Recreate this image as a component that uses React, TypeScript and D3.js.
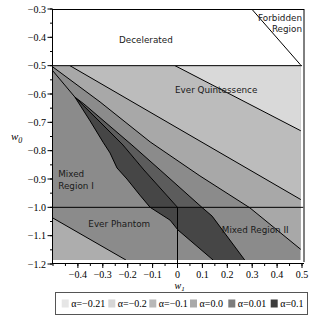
import React from 'react';
import * as d3 from 'd3';

// ---- data (w1, w0) ----
const xTickValues = [-0.4, -0.3, -0.2, -0.1, 0, 0.1, 0.2, 0.3, 0.4, 0.5];
const yTickValues = [-0.3, -0.4, -0.5, -0.6, -0.7, -0.8, -0.9, -1.0, -1.1, -1.2];

const fillTop = -0.5;
const fillBottom = -1.186;
const fillLeft = -0.5;
const fillRight = 0.495;

const lineL1: [number, number][] = [[-0.01, -0.5], [0.5, -0.732]];
const lineL2: [number, number][] = [[-0.432, -0.5], [0.5, -0.975]];
const lineL3: [number, number][] = [
  [-0.5, -0.505], [-0.311, -0.628], [-0.11, -0.769], [0.09, -0.889], [0.291, -1.002], [0.5, -1.152],
];
const cornerToTip: [number, number][] = [[-0.5, -0.519], [-0.412, -0.611]];
const bandLeftUpper: [number, number][] = [
  [-0.412, -0.611], [-0.351, -0.695], [-0.299, -0.77], [-0.271, -0.808], [-0.243, -0.861],
  [-0.203, -0.9], [-0.151, -0.957], [-0.11, -1.0],
];
const bandLeftLower: [number, number][] = [
  [-0.11, -1.0], [-0.03, -1.045], [0.002, -1.08], [0.143, -1.186],
];
const darkRight: [number, number][] = [
  [-0.412, -0.611], [-0.311, -0.699], [-0.219, -0.78], [-0.135, -0.868], [0.0, -1.0],
];
const midRight: [number, number][] = [
  [-0.412, -0.611], [-0.376, -0.635], [-0.183, -0.78], [-0.07, -0.868], [0.098, -1.0],
];
const bandRightLower: [number, number][] = [[0.098, -1.0], [0.139, -1.031], [0.27, -1.186]];
const phantomLine: [number, number][] = [[-0.5, -1.038], [-0.207, -1.186]];
const forbiddenLine: [number, number][] = [[0.298, -0.3], [0.494, -0.497]];

const legendLabels = ['α=−0.21', 'α=−0.2', 'α=−0.1', 'α=0.0', 'α=0.01', 'α=0.1'];
const legendColors = ['#e6e6e6', '#d6d6d6', '#b8b8b8', '#a9a9a9', '#7c7c7c', '#3c3c3c'];

const regionLabels: { text: string; w1: number; w0: number; anchor: string }[] = [
  { text: 'Decelerated', w1: -0.127, w0: -0.42, anchor: 'middle' },
  { text: 'Forbidden', w1: 0.5, w0: -0.342, anchor: 'end' },
  { text: 'Region', w1: 0.5, w0: -0.381, anchor: 'end' },
  { text: 'Ever Quintessence', w1: -0.01, w0: -0.597, anchor: 'start' },
  { text: 'Mixed', w1: -0.479, w0: -0.893, anchor: 'start' },
  { text: 'Region I', w1: -0.479, w0: -0.935, anchor: 'start' },
  { text: 'Ever Phantom', w1: -0.358, w0: -1.069, anchor: 'start' },
  { text: 'Mixed Region II', w1: 0.178, w0: -1.091, anchor: 'start' },
];

const C = {
  a: '#d9d9d9',
  b: '#bcbcbc',
  c: '#a8a8a8',
  d: '#8b8b8b',
  e: '#5c5c5c',
  f: '#464646',
  g: '#adadad',
};

export default function App() {
  const x = d3.scaleLinear().domain([-0.5, 0.5]).range([53, 302]);
  const y = d3.scaleLinear().domain([-1.2, -0.3]).range([264, 9]);
  const line = d3.line<[number, number]>().x((d) => x(d[0])).y((d) => y(d[1]));
  const poly = (pts: [number, number][]) => line(pts) + 'Z';

  const aboveL1 = [...lineL1, [0.5, -0.5] as [number, number]];
  const aboveL2 = [...lineL2, [0.5, -0.5] as [number, number]];
  const aboveL3 = [...lineL3, [0.5, -0.5] as [number, number], [-0.5, -0.5] as [number, number]];
  const darkUpper = [...bandLeftUpper, ...darkRight.slice().reverse()];
  const midUpper = [...darkRight, ...midRight.slice().reverse()];
  const lowerBand = [...bandLeftLower, ...bandRightLower.slice().reverse()];
  const phantomTri = [...phantomLine, [-0.5, -1.186] as [number, number]];

  const minorY = d3.range(-1.2, -0.3 + 1e-9, 0.05);
  const minorX = d3.range(-0.5, 0.5 + 1e-9, 0.05);

  const serif = 'Liberation Serif, Times New Roman, serif';
  const sans = 'DejaVu Sans, Verdana, sans-serif';

  const legendX = [61.7, 108.3, 149.3, 190, 228.3, 270.7];

  return (
    <svg width={316} height={316} style={{ position: 'absolute', left: 0, top: 0, background: '#fff' }}>
      <defs>
        <clipPath id="fillClip">
          <rect x={x(fillLeft)} y={y(fillTop)} width={x(fillRight) - x(fillLeft)} height={y(fillBottom) - y(fillTop)} />
        </clipPath>
      </defs>
      <g clipPath="url(#fillClip)">
        <rect x={x(fillLeft)} y={y(fillTop)} width={x(fillRight) - x(fillLeft)} height={y(fillBottom) - y(fillTop)} fill={C.d} />
        <path d={poly(aboveL3)} fill={C.c} />
        <path d={poly(aboveL2)} fill={C.b} />
        <path d={poly(aboveL1)} fill={C.a} />
        <path d={poly(darkUpper)} fill={C.f} />
        <path d={poly(midUpper)} fill={C.e} />
        <path d={poly(lowerBand)} fill={C.f} />
        <path d={poly(phantomTri)} fill={C.g} />
        <g fill="none" stroke="#000" strokeWidth={1}>
          <path d={line(lineL1)!} />
          <path d={line(lineL2)!} />
          <path d={line(lineL3)!} />
          <path d={line(cornerToTip)!} />
          <path d={line(bandLeftUpper)!} />
          <path d={line(bandLeftLower)!} />
          <path d={line(darkRight)!} />
          <path d={line(midRight)!} />
          <path d={line(bandRightLower)!} />
          <path d={line(phantomLine)!} />
        </g>
      </g>
      {/* reference lines */}
      <g stroke="#000" strokeWidth={1}>
        <line x1={x(-0.5)} x2={x(0.5)} y1={y(-0.5)} y2={y(-0.5)} />
        <line x1={x(-0.5)} x2={x(0.505)} y1={y(-1.0)} y2={y(-1.0)} />
        <line x1={x(0)} x2={x(0)} y1={y(-1.0)} y2={y(-1.2)} />
        <path d={line(forbiddenLine)!} fill="none" />
      </g>
      {/* frame */}
      <g stroke="#000" strokeWidth={1} fill="none">
        <line x1={52.5} x2={52.5} y1={9} y2={264} />
        <line x1={52.5} x2={304} y1={9.5} y2={9.5} />
        <line x1={304} x2={304} y1={9} y2={262} />
        <line x1={52.5} x2={304} y1={263.5} y2={263.5} />
      </g>
      {/* y ticks */}
      <g stroke="#000" strokeWidth={1}>
        {minorY.map((v, i) => (
          <line key={'ym' + i} x1={50} x2={52.5} y1={y(v)} y2={y(v)} />
        ))}
        {yTickValues.map((v) => (
          <line key={'yt' + v} x1={47.5} x2={52.5} y1={y(v)} y2={y(v)} />
        ))}
      </g>
      <g fontFamily={serif} fontSize={10} fill="#000" textAnchor="end">
        {yTickValues.map((v) => (
          <text key={'yl' + v} x={46} y={y(v) + 3.5}>
            {'−' + Math.abs(v).toFixed(1)}
          </text>
        ))}
      </g>
      {/* x ticks */}
      <g stroke="#000" strokeWidth={1}>
        {minorX.map((v, i) => (
          <line key={'xm' + i} x1={x(v)} x2={x(v)} y1={263.5} y2={266} />
        ))}
        {xTickValues.map((v) => (
          <line key={'xt' + v} x1={x(v)} x2={x(v)} y1={263.5} y2={268} />
        ))}
      </g>
      <g fontFamily={serif} fontSize={10} fill="#000" textAnchor="middle">
        {xTickValues.map((v) => (
          <text key={'xl' + v} x={x(v)} y={277.5}>
            {v < 0 ? '−' + Math.abs(v).toFixed(1) : v === 0 ? '0' : v.toFixed(1)}
          </text>
        ))}
      </g>
      {/* axis titles */}
      <text x={174.5} y={288.5} fontFamily={serif} fontStyle="italic" fontSize={10}>
        w<tspan dy={2} fontSize={7}>1</tspan>
      </text>
      <text x={11} y={140} fontFamily={serif} fontStyle="italic" fontSize={11}>
        w<tspan dy={2.5} fontSize={8}>0</tspan>
      </text>
      {/* region labels */}
      <g fontFamily={sans} fontSize={8.8} fill="#1a1a1a">
        {regionLabels.map((l) => (
          <text key={l.text} x={x(l.w1)} y={y(l.w0)} textAnchor={l.anchor as any}>
            {l.text}
          </text>
        ))}
      </g>
      {/* legend */}
      <rect x={55.5} y={292.5} width={252} height={22} fill="#fff" stroke="#555" strokeWidth={1} />
      {legendLabels.map((lab, i) => (
        <g key={lab}>
          <rect x={legendX[i]} y={299.5} width={7} height={8} fill={legendColors[i]} />
          <text x={legendX[i] + 9.5} y={307} fontFamily={serif} fontSize={10} fill="#000">
            {lab}
          </text>
        </g>
      ))}
    </svg>
  );
}
